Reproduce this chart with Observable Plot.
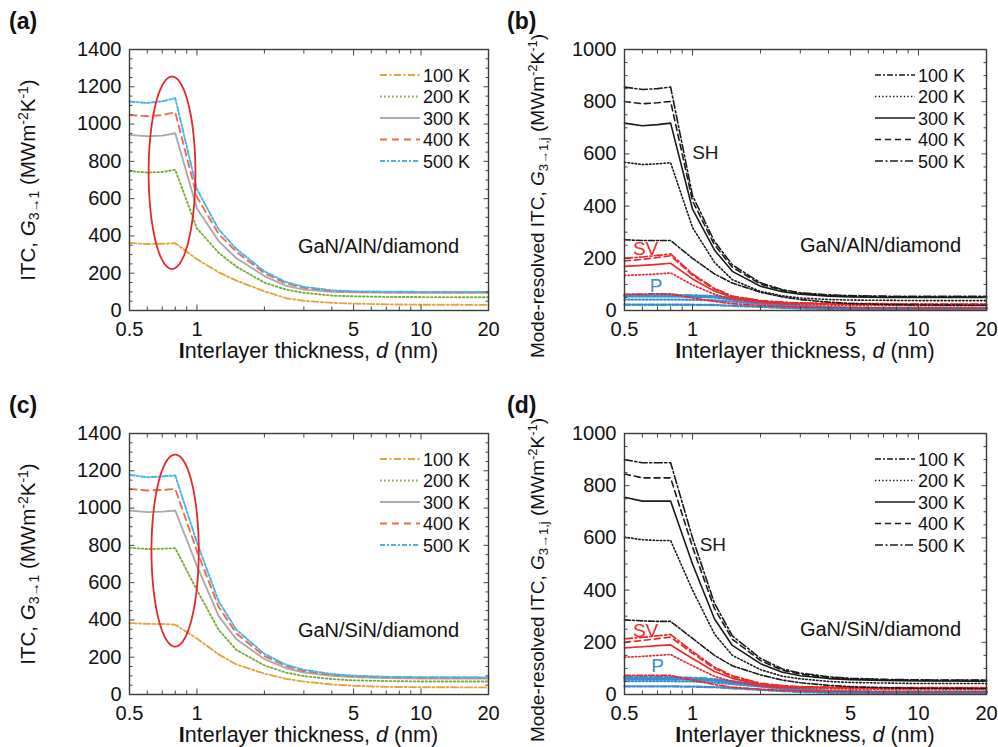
<!DOCTYPE html>
<html><head><meta charset="utf-8">
<script src="https://cdn.jsdelivr.net/npm/d3@7"></script>
<script src="https://cdn.jsdelivr.net/npm/@observablehq/plot@0.6"></script>
<style>
body{margin:0;background:#fff;font-family:"Liberation Sans",Arial,sans-serif;}
#wrap{position:relative;width:998px;height:747px;overflow:hidden;}
.panel{position:absolute;width:499px;height:373px;}
</style></head><body><div id="wrap"></div><script>
// ---------- data ----------
const thickness = [0.5,0.6,0.7,0.8,1,1.25,1.5,2,2.5,3,4,5,7,10,20];
const temps = ["100 K","200 K","300 K","400 K","500 K"];
const xLabelTicks = [0.5,1,5,10,20];

// (a) GaN/AlN/diamond total ITC
const a100 = [362,357,358,361,275,205,160,103,66,52,41,37,33,31,30];
const a200 = [748,740,743,755,440,310,235,150,112,95,80,76,73,72,71];
const a300 = [942,935,938,951,547,372,280,185,132,112,100,97,96,95,95];
const a400 = [1048,1042,1048,1064,610,410,315,200,145,122,104,100,98,97,97];
const a500 = [1121,1113,1122,1139,650,435,330,210,152,127,108,103,101,100,100];

// (b) GaN/AlN/diamond mode-resolved
const bSH100 = [271,268,268,268,200,140,105,70,52,42,32,27,23,21,20];
const bSH200 = [568,559,562,566,318,185,118,73,56,48,42,40,39,38,38];
const bSH300 = [718,708,712,718,388,232,150,93,72,62,55,52,50,50,50];
const bSH400 = [801,792,796,801,420,252,166,101,77,66,58,55,53,52,52];
const bSH500 = [856,847,850,856,440,265,175,106,80,68,60,57,55,54,54];
const bSV100 = [62,63,64,64,48,35,26,19,15,13,11,10,10,9,9];
const bSV200 = [134,137,140,144,98,62,42,30,25,23,21,20,20,19,19];
const bSV300 = [169,173,177,181,121,75,50,35,29,27,25,24,24,23,23];
const bSV400 = [190,196,203,210,135,82,53,37,31,28,26,25,25,24,24];
const bSV500 = [200,205,211,217,140,85,55,38,32,29,27,26,26,25,25];
const bP100 = [22,22,22,22,22,21,18,14,10,8,6,5,4,4,4];
const bP200 = [42,42,42,42,41,39,34,25,18,13,9,8,7,7,7];
const bP300 = [54,54,54,54,53,50,43,31,22,16,11,9,8,8,8];
const bP400 = [57,57,57,57,56,53,46,33,24,17,12,10,9,9,9];
const bP500 = [60,60,60,60,58,55,48,35,25,18,13,11,10,10,10];

// (c) GaN/SiN/diamond total ITC
const c100 = [383,379,378,375,300,215,161,112,84,69,54,47,41,39,38];
const c200 = [787,780,782,785,560,347,239,156,117,99,83,76,72,70,70];
const c300 = [987,978,981,987,690,420,296,190,141,118,100,93,88,86,85];
const c400 = [1103,1094,1097,1103,770,470,328,206,152,126,105,97,92,90,89];
const c500 = [1178,1165,1170,1175,815,500,347,218,159,132,110,101,95,93,92];

// (d) GaN/SiN/diamond mode-resolved
const dSH100 = [286,282,280,280,215,150,110,75,55,45,35,30,26,24,23];
const dSH200 = [603,593,590,590,400,232,150,95,70,60,50,46,44,42,42];
const dSH300 = [756,741,741,741,500,290,188,118,85,72,61,57,54,52,51];
const dSH400 = [845,830,830,830,565,330,212,130,93,78,65,60,57,55,54];
const dSH500 = [900,888,888,888,600,350,225,138,98,82,68,62,58,56,55];
const dSV100 = [73,73,73,73,55,38,28,20,16,14,12,11,10,10,10];
const dSV200 = [143,146,150,153,110,70,50,32,26,24,22,21,20,20,20];
const dSV300 = [179,183,187,190,138,88,62,38,31,28,26,25,24,24,24];
const dSV400 = [200,207,214,220,158,100,68,41,33,29,27,26,25,25,25];
const dSV500 = [213,219,225,230,165,105,72,43,34,30,28,27,26,26,26];
const dP100 = [31,31,31,31,30,28,24,18,13,10,7,6,5,5,5];
const dP200 = [51,51,51,51,50,46,40,30,22,16,11,9,8,8,8];
const dP300 = [60,60,60,60,58,54,46,34,25,18,13,11,10,10,10];
const dP400 = [63,63,63,63,61,56,48,35,26,19,13,11,10,10,10];
const dP500 = [66,66,66,66,64,59,51,37,27,20,14,12,11,11,11];

// ---------- styles ----------
const totalColors = ["#E9A23B","#7AAE3A","#ABABAB","#F26A48","#45B5E8"];
const totalDash = ["7,2.5,2,2.5","1.6,2.4",null,"7,5","5,2,2,2"];
const modeDash = ["6,2,2,2","1.4,2.2",null,"6,4","8,2.5,2,2.5"];
const modeColor = {SH:"#1a1a1a", SV:"#EA2A2A", P:"#3B8ED2"};
const modeWidth = {SH:1.6, SV:1.7, P:2.3};

function totalSeries(arrs){
  return arrs.map((v,i)=>({values:v, color:totalColors[i], dash:totalDash[i], width:1.9}));
}
function modeSeries(groups){
  const out=[];
  for(const [m,arrs] of groups) arrs.forEach((v,i)=>out.push({values:v,color:modeColor[m],dash:modeDash[i],width:modeWidth[m]}));
  return out;
}

const FONT = "Liberation Sans, Arial, Helvetica, sans-serif";

function makePanel(cfg){
  const wrap = document.getElementById("wrap");
  const div = document.createElement("div");
  div.className="panel"; div.style.left=cfg.left+"px"; div.style.top=cfg.top+"px";
  wrap.appendChild(div);
  const marks=[];
  for(const s of cfg.series){
    const rows = thickness.map((d,i)=>({d, v:s.values[i]}));
    const o = {x:"d",y:"v",stroke:s.color,strokeWidth:s.width};
    if(s.dash) o.strokeDasharray=s.dash;
    marks.push(Plot.line(rows,o));
  }
  if(cfg.ellipse){
    const e=cfg.ellipse;
    const pts=d3.range(0,361,2).map(t=>{const r=t*Math.PI/180;return {d:Math.exp(Math.log(e.cx)+e.a*Math.cos(r)), v:e.cy+e.b*Math.sin(r)};});
    marks.push(Plot.line(pts,{x:"d",y:"v",stroke:"#E8262B",strokeWidth:1.8}));
  }
  for(const t of cfg.texts){
    marks.push(Plot.text([t],{x:"d",y:"v",text:"s",fill:t.color,fontSize:t.size,textAnchor:"middle",fontFamily:FONT}));
  }
  const yMajor = d3.range(0,cfg.yMax+1,200);
  const yMinor = d3.range(0,cfg.yMax+1,50).filter(v=>v%200!==0);
  const xMinor = [0.6,0.7,0.8,0.9,2,3,4,6,7,8,9];
  const blank = ()=>"";
  marks.push(
    Plot.axisX({anchor:"bottom",ticks:xLabelTicks,tickFormat:d=>String(d),tickSize:0,tickPadding:11,label:null,fontSize:20}),
    Plot.axisX({anchor:"bottom",ticks:xLabelTicks,tickFormat:blank,tickSize:-5.5,label:null,stroke:"#444"}),
    Plot.axisX({anchor:"bottom",ticks:xMinor,tickFormat:blank,tickSize:-3.5,label:null,stroke:"#444"}),
    Plot.axisX({anchor:"top",ticks:xLabelTicks,tickFormat:blank,tickSize:-5.5,label:null,stroke:"#444"}),
    Plot.axisX({anchor:"top",ticks:xMinor,tickFormat:blank,tickSize:-3.5,label:null,stroke:"#444"}),
    Plot.axisY({anchor:"left",ticks:yMajor,tickFormat:d=>String(d),tickSize:0,tickPadding:8,label:null,fontSize:20}),
    Plot.axisY({anchor:"left",ticks:yMajor,tickFormat:blank,tickSize:-5.5,label:null,stroke:"#444"}),
    Plot.axisY({anchor:"left",ticks:yMinor,tickFormat:blank,tickSize:-3.5,label:null,stroke:"#444"}),
    Plot.axisY({anchor:"right",ticks:yMajor,tickFormat:blank,tickSize:-5.5,label:null,stroke:"#444"}),
    Plot.axisY({anchor:"right",ticks:yMinor,tickFormat:blank,tickSize:-3.5,label:null,stroke:"#444"}),
    Plot.frame({stroke:"#3a3a3a",strokeWidth:1.4})
  );
  const chart = Plot.plot({
    width:499,height:373,marginLeft:cfg.mL,marginRight:cfg.mR,marginTop:49,marginBottom:63,
    x:{type:"log",domain:[0.5,20]}, y:{domain:[0,cfg.yMax]},
    style:{fontFamily:FONT,color:"#111",background:"transparent",fontSize:"20px",overflow:"visible"},
    marks
  });
  div.appendChild(chart);
  const svg = d3.select(chart);
  const fl=cfg.mL, fr=499-cfg.mR, ft=49, fb=373-63;
  // legend
  const lg = svg.append("g").attr("font-family",FONT).attr("font-size",18).attr("fill","#111").attr("text-anchor","start");
  cfg.legend.forEach((s,i)=>{
    const y = ft+26+i*21.5;
    const ln = lg.append("line").attr("x1",fl+251).attr("x2",fl+291).attr("y1",y).attr("y2",y)
      .attr("stroke",s.color).attr("stroke-width",s.width);
    if(s.dash) ln.attr("stroke-dasharray",s.dash);
    lg.append("text").attr("x",fl+294).attr("y",y+6.5).attr("text-anchor","start").text(temps[i]);
  });
  // panel letter
  svg.append("text").attr("x",cfg.letterX).attr("y",29).attr("text-anchor","start").attr("font-family",FONT).attr("font-weight","bold")
    .attr("font-size",23).attr("fill","#111").text(cfg.letter);
  // x label
  const xl = svg.append("text").attr("x",(fl+fr)/2).attr("y",fb+48).attr("text-anchor","middle")
    .attr("font-family",FONT).attr("font-size",21.5).attr("fill","#111");
  xl.append("tspan").attr("font-weight","bold").text("I");
  xl.append("tspan").text("nterlayer thickness, ");
  xl.append("tspan").attr("font-style","italic").text("d");
  xl.append("tspan").text(" (nm)");
  // y label
  const fs = cfg.yLabelSize, ss = Math.round(fs*0.68);
  const yl = svg.append("text").attr("transform",`translate(${cfg.yLabelX},${cfg.yLabelY}) rotate(-90)`)
    .attr("text-anchor","middle").attr("font-family",FONT).attr("font-size",fs).attr("fill","#111");
  yl.append("tspan").text(cfg.yPrefix);
  yl.append("tspan").attr("font-style","italic").text("G");
  yl.append("tspan").attr("font-size",ss).attr("dy",4).text(cfg.ySub);
  yl.append("tspan").attr("dy",-4).text(" (MWm");
  yl.append("tspan").attr("font-size",ss).attr("dy",-7).text("-2");
  yl.append("tspan").attr("dy",7).text("K");
  yl.append("tspan").attr("font-size",ss).attr("dy",-7).text("-1");
  yl.append("tspan").attr("dy",7).text(")");
}

const totalsA = totalSeries([a100,a200,a300,a400,a500]);
const totalsC = totalSeries([c100,c200,c300,c400,c500]);
const modesB = modeSeries([["P",[bP100,bP200,bP300,bP400,bP500]],["SV",[bSV100,bSV200,bSV300,bSV400,bSV500]],["SH",[bSH100,bSH200,bSH300,bSH400,bSH500]]]);
const modesD = modeSeries([["P",[dP100,dP200,dP300,dP400,dP500]],["SV",[dSV100,dSV200,dSV300,dSV400,dSV500]],["SH",[dSH100,dSH200,dSH300,dSH400,dSH500]]]);
const modeLegend = modeDash.map(d=>({color:"#1a1a1a",dash:d,width:1.6}));

makePanel({left:0,top:0,mL:129,mR:11,yMax:1400,series:totalsA,legend:totalsA,
  ellipse:{cx:0.774,a:0.2405,cy:739,b:516},
  texts:[{d:6.46,v:345,s:"GaN/AlN/diamond",color:"#111",size:20}],
  letter:"(a)",letterX:9,yLabelX:35,yLabelY:180,yLabelSize:20.5,yPrefix:"ITC, ",ySub:"3→1"});
makePanel({left:499,top:0,mL:125,mR:12,yMax:1000,series:modesB,legend:modeLegend,
  texts:[{d:6.79,v:248,s:"GaN/AlN/diamond",color:"#111",size:20},
         {d:1.14,v:602,s:"SH",color:"#1a1a1a",size:19},
         {d:0.62,v:236,s:"SV",color:"#EA2A2A",size:19},
         {d:0.69,v:95,s:"P",color:"#3B8ED2",size:19}],
  letter:"(b)",letterX:8,yLabelX:45,yLabelY:196,yLabelSize:19,yPrefix:"Mode-resolved ITC, ",ySub:"3→1,j"});
makePanel({left:0,top:384,mL:129,mR:11,yMax:1400,series:totalsC,legend:totalsC,
  ellipse:{cx:0.799,a:0.243,cy:772,b:515},
  texts:[{d:6.46,v:345,s:"GaN/SiN/diamond",color:"#111",size:20}],
  letter:"(c)",letterX:9,yLabelX:35,yLabelY:180,yLabelSize:20.5,yPrefix:"ITC, ",ySub:"3→1"});
makePanel({left:499,top:384,mL:125,mR:12,yMax:1000,series:modesD,legend:modeLegend,
  texts:[{d:6.79,v:248,s:"GaN/SiN/diamond",color:"#111",size:20},
         {d:1.23,v:572,s:"SH",color:"#1a1a1a",size:19},
         {d:0.62,v:242,s:"SV",color:"#EA2A2A",size:19},
         {d:0.70,v:110,s:"P",color:"#3B8ED2",size:19}],
  letter:"(d)",letterX:8,yLabelX:45,yLabelY:196,yLabelSize:19,yPrefix:"Mode-resolved ITC, ",ySub:"3→1,j"});
</script></body></html>
